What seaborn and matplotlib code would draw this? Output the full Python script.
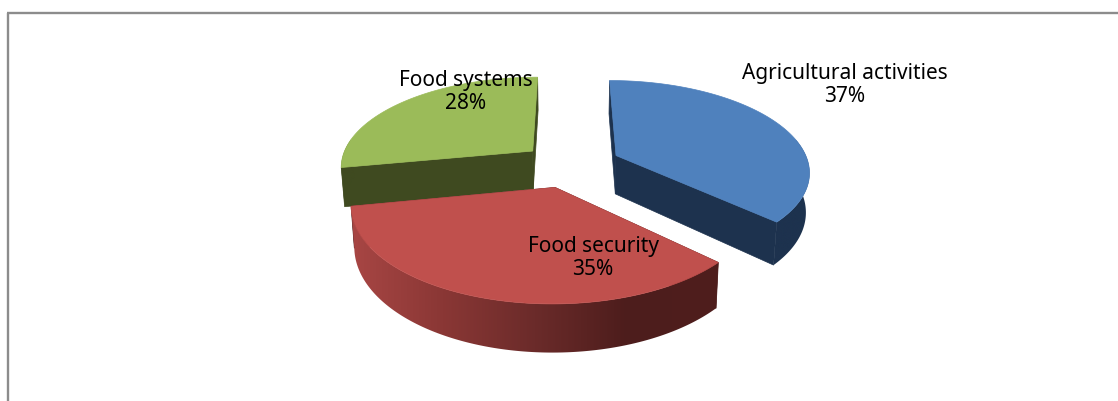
import numpy as np
import matplotlib
matplotlib.use("Agg")
import matplotlib.pyplot as plt
from matplotlib.patches import Polygon
import seaborn as sns

# Share of each theme, percent, clockwise from twelve o'clock
categories = ["Agricultural activities", "Food security", "Food systems"]
shares = [37, 35, 28]

# Colours: top face, radial cut face, shading stops of the outer wall
top_colors = ["#4F81BD", "#C0504D", "#9BBB59"]
cut_colors = ["#1D324E", "#4E1D1C", "#3F4A20"]
wall_colors = [["#1D324E", "#1D324E"],
               ["#A84644", "#8A3735", "#6B2B2A", "#4D1D1C", "#4F1E1D"],
               ["#3F4A20", "#3F4A20"]]

# Projection of the tilted pie onto the canvas (pixels)
CX, CY = 569.0, 165.0
RX, RY = 193.0, 89.8
PERSPECTIVE = 0.16
EXPLODE = [0.27, 0.25, 0.25]
DEPTH = 39.0
TAPER = 0.985

W, H = 1118, 401
sns.set_theme(style="white")
plt.rcParams["font.family"] = ["Noto Sans", "DejaVu Sans"]
fig = plt.figure(figsize=(W / 100, H / 100), dpi=100, facecolor="white")
ax = fig.add_axes([0, 0, 1, 1])
ax.axis("off")


def project(wx, wy, low=False):
    d = 1 + PERSPECTIVE * wy
    x = CX + RX * wx / d
    y = CY - RY * wy / d
    if low:
        x = CX + TAPER * (x - CX)
        y = y + DEPTH / d
    return np.column_stack([x, y])


def draw_slice(start, stop, explode, top, cut, wall, z):
    mid = np.radians((start + stop) / 2)
    ox, oy = explode * np.cos(mid), explode * np.sin(mid)
    th = np.radians(np.linspace(start, stop, 200))
    rx, ry = ox + np.cos(th), oy + np.sin(th)
    apex_hi = project(np.array([ox]), np.array([oy]))
    apex_lo = project(np.array([ox]), np.array([oy]), low=True)
    rim_hi = project(rx, ry)
    rim_lo = project(rx, ry, low=True)

    # Radial cut faces at both ends of the slice, beneath the wall
    for rim_a, rim_b in ((rim_hi[0], rim_lo[0]), (rim_hi[-1], rim_lo[-1])):
        ax.add_patch(Polygon(np.vstack([apex_hi, rim_a, rim_b, apex_lo]), closed=True,
                             fc=cut, ec=cut, lw=0.5, zorder=z))

    # Outer wall: only the part facing the viewer, shaded left to right
    front = ry < 0.3
    if front.sum() > 1:
        hi, lo = rim_hi[front], rim_lo[front]
        outline = np.vstack([hi, lo[::-1]])
        shades = np.array(sns.blend_palette(wall, 256)).reshape(1, 256, 3)
        x0, x1 = outline[:, 0].min(), outline[:, 0].max()
        y0, y1 = outline[:, 1].min(), outline[:, 1].max()
        image = ax.imshow(shades, extent=(x0, x1, y1, y0), aspect="auto",
                          interpolation="bilinear", zorder=z + 0.1)
        edge = Polygon(outline, closed=True, fc="none", lw=0.0, transform=ax.transData)
        ax.add_patch(edge)
        image.set_clip_path(edge)

    # Top face
    ax.add_patch(Polygon(np.vstack([apex_hi, rim_hi]), closed=True, fc=top, ec=top,
                         lw=0.5, zorder=z + 0.2))


angles = 90 - 3.6 * np.concatenate([[0], np.cumsum(shares)])
layer = {0: 2, 1: 3, 2: 1}
for i in range(len(shares)):
    draw_slice(angles[i + 1], angles[i], EXPLODE[i], top_colors[i], cut_colors[i],
               wall_colors[i], layer[i])

ax.set_xlim(0, W)
ax.set_ylim(H, 0)

# Data labels
label_xy = [(845, 85), (593, 258), (466, 92)]
for name, value, (x, y) in zip(categories, shares, label_xy):
    ax.text(x, y, f"{name}\n{value}%", ha="center", va="center", fontsize=15,
            color="black", linespacing=1.18, zorder=10)

# Chart frame
frame = dict(color="#8C8C8C", lw=1.7, solid_capstyle="butt", zorder=11)
ax.plot([8, 8], [H, 12.5], **frame)
ax.plot([7.4, W], [12.5, 12.5], **frame)

fig.savefig("out.png", dpi=100, facecolor="white")
